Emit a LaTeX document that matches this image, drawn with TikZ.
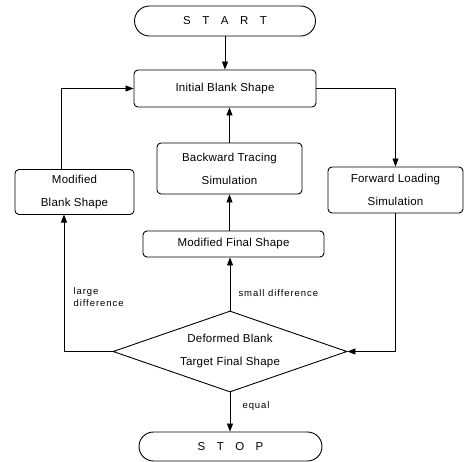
\documentclass[tikz,border=0pt]{standalone}
\usepackage{fontspec}
\setmainfont{Liberation Sans}
\newfontfamily\mainf[LetterSpace=2]{Liberation Sans}
\newfontfamily\lblf[LetterSpace=10]{Liberation Sans}
\usetikzlibrary{shapes.geometric,shapes.misc,arrows.meta}
\begin{document}
\begin{tikzpicture}[x=1pt,y=-1pt,
  every node/.style={font=\mainf\fontsize{11.5}{23}\selectfont},
  box/.style={draw,rounded corners=4pt,line width=0.9pt,align=center,inner sep=0pt},
  term/.style={draw,rounded rectangle,line width=0.9pt,inner sep=0pt},
  dec/.style={draw,diamond,line width=0.9pt,inner sep=0pt,align=center,shape aspect=2.89},
  arr/.style={line width=0.8pt,-{Triangle[length=8pt,width=6pt]}},
  lbl/.style={font=\lblf\fontsize{9.5}{12}\selectfont,align=left}]
\useasboundingbox (0,0) rectangle (469,461);
\node[term,minimum width=181pt,minimum height=30pt] (start) at (225,21) {S\hspace{1em}T\hspace{1em}A\hspace{1em}R\hspace{1em}T};
\node[box,minimum width=182pt,minimum height=37pt] (init) at (225,88.5) {Initial Blank Shape};
\node[box,minimum width=145pt,minimum height=51pt] (back) at (229.5,168.5) {Backward Tracing\\Simulation};
\node[box,minimum width=119pt,minimum height=45pt] (mblank) at (74.5,192) {Modified\\Blank Shape};
\node[box,minimum width=135pt,minimum height=46pt] (fwd) at (395.5,190) {Forward Loading\\Simulation};
\node[box,minimum width=181pt,minimum height=26pt] (mfinal) at (233.5,244) {Modified Final Shape};
\node[dec,minimum width=234pt,minimum height=81pt] (d) at (230,351.5) {Deformed Blank\\Target Final Shape};
\node[term,minimum width=183pt,minimum height=29pt] (stop) at (230.5,446.5) {S\hspace{1em}T\hspace{1em}O\hspace{1em}P};
\coordinate (lbot) at (64,214.5);
\coordinate (ltop) at (61,169.5);
\draw[arr] (start.south) -- (init.north);
\draw[arr] (back.north) -- (back.north |- init.south);
\draw[arr] (back.south |- mfinal.north) -- (back.south);
\draw[arr] (d.north) -- (d.north |- mfinal.south);
\draw[arr] (d.west) -| (lbot);
\draw[arr] (ltop) |- (init.west);
\draw[arr] (init.east) -| (fwd.north);
\draw[arr] (fwd.south) |- (d.east);
\draw[arr] (d.south) -- (d.south |- stop.north);
\node[lbl,anchor=west] (ls) at (235,293) {small difference};
\node[lbl,anchor=north west] (ll) at (70,284) {large\\difference};
\node[lbl,anchor=west] (le) at (239,406) {equal};
\end{tikzpicture}
\end{document}
